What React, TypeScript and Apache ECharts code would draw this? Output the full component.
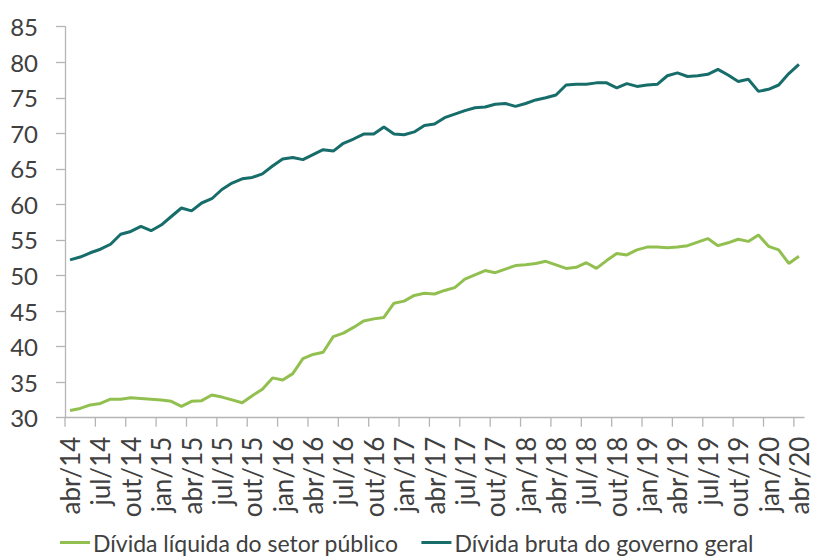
import React, { useEffect, useRef } from "react";
import * as echarts from "echarts";

// Months (Portuguese abbreviations) used to build the category labels abr/14 ... abr/20
const monthNames = ["jan", "fev", "mar", "abr", "mai", "jun", "jul", "ago", "set", "out", "nov", "dez"];
const startYear = 2014;
const startMonth = 3; // abr
const monthCount = 73;

const categories: string[] = [];
for (let i = 0; i < monthCount; i++) {
  const mm = (startMonth + i) % 12;
  const yy = startYear + Math.floor((startMonth + i) / 12);
  categories.push(`${monthNames[mm]}/${String(yy).slice(2)}`);
}

// Dívida líquida do setor público (% PIB)
const dividaLiquida = [
  31.0, 31.3, 31.8, 32.0, 32.6, 32.6, 32.8, 32.7, 32.6, 32.5, 32.3, 31.6,
  32.3, 32.4, 33.2, 32.9, 32.5, 32.1, 33.1, 34.0, 35.6, 35.3, 36.2, 38.3,
  38.9, 39.2, 41.4, 41.9, 42.7, 43.6, 43.9, 44.1, 46.1, 46.4, 47.2, 47.5,
  47.4, 47.9, 48.3, 49.5, 50.1, 50.7, 50.4, 50.9, 51.4, 51.5, 51.7, 52.0,
  51.5, 51.0, 51.15, 51.8, 51.0, 52.1, 53.1, 52.9, 53.6, 54.0, 54.0, 53.9,
  54.0, 54.2, 54.7, 55.2, 54.2, 54.6, 55.1, 54.8, 55.7, 54.1, 53.6, 51.7,
  52.7,
];

// Dívida bruta do governo geral (% PIB)
const dividaBruta = [
  52.2, 52.6, 53.2, 53.7, 54.4, 55.8, 56.2, 56.9, 56.3, 57.1, 58.3, 59.5,
  59.1, 60.2, 60.8, 62.1, 63.0, 63.6, 63.8, 64.3, 65.4, 66.4, 66.6, 66.3,
  67.0, 67.7, 67.5, 68.6, 69.2, 69.9, 69.9, 70.9, 69.9, 69.8, 70.2, 71.1,
  71.3, 72.2, 72.7, 73.2, 73.6, 73.7, 74.1, 74.2, 73.8, 74.2, 74.7, 75.0,
  75.4, 76.8, 76.9, 76.9, 77.1, 77.1, 76.4, 77.0, 76.6, 76.8, 76.9, 78.1,
  78.5, 78.0, 78.1, 78.3, 79.0, 78.2, 77.3, 77.6, 75.9, 76.2, 76.8, 78.4,
  79.7,
];

const seriesNames = ["Dívida líquida do setor público", "Dívida bruta do governo geral"];
const yMin = 30;
const yMax = 85;
const yStep = 5;
const labelEvery = 3;

const FONT = "Lato, 'Open Sans', sans-serif";
const TEXT = "#404040";
const AXIS = "#B5B5B5";

export default function App() {
  const ref = useRef<HTMLDivElement>(null);

  useEffect(() => {
    if (!ref.current) return;
    const chart = echarts.init(ref.current, null, { renderer: "svg" });

    const tickData = categories
      .map((_, i) => i)
      .filter((i) => i % labelEvery === 0)
      .map((i) => [i, yMin]);

    chart.setOption({
      animation: false,
      backgroundColor: "#ffffff",
      grid: { left: 65, right: 10, top: 26.7, bottom: 139.3, containLabel: false, outerBoundsMode: "none" },
      legend: {
        data: seriesNames,
        left: 55,
        top: 526,
        itemWidth: 30,
        itemHeight: 3,
        itemGap: 23,
        icon: "rect",
        textStyle: { fontFamily: FONT, fontSize: 23, color: TEXT, padding: [0, 0, 0, -2] },
      },
      xAxis: {
        type: "category",
        data: categories,
        boundaryGap: true,
        axisLine: { show: true, lineStyle: { color: AXIS, width: 1.3 } },
        axisTick: { show: false },
        axisLabel: {
          interval: labelEvery - 1,
          rotate: 90,
          margin: 19,
          fontFamily: FONT,
          fontSize: 26,
          color: TEXT,
        },
        splitLine: { show: false },
      },
      yAxis: {
        type: "value",
        min: yMin,
        max: yMax,
        interval: yStep,
        axisLine: { show: true, lineStyle: { color: AXIS, width: 1.3 } },
        axisTick: { show: true, inside: false, length: 9, lineStyle: { color: AXIS, width: 1.3 } },
        axisLabel: { margin: 27, fontFamily: FONT, fontSize: 24, color: TEXT },
        splitLine: { show: false },
      },
      series: [
        {
          name: seriesNames[0],
          type: "line",
          data: dividaLiquida,
          showSymbol: false,
          symbol: "none",
          lineStyle: { color: "#92C050", width: 3 },
          itemStyle: { color: "#92C050" },
        },
        {
          name: seriesNames[1],
          type: "line",
          data: dividaBruta,
          showSymbol: false,
          symbol: "none",
          lineStyle: { color: "#176D69", width: 3 },
          itemStyle: { color: "#176D69" },
        },
        {
          name: "ticks",
          type: "custom",
          silent: true,
          data: tickData,
          encode: { x: 0, y: 1 },
          renderItem: (params: any, api: any) => {
            const p = api.coord([api.value(0), api.value(1)]);
            const w = api.size([1, 0])[0];
            const x = p[0] - w / 2;
            return {
              type: "line",
              shape: { x1: x, y1: p[1], x2: x, y2: p[1] + 9 },
              style: { stroke: AXIS, lineWidth: 1.3 },
            };
          },
        },
      ],
    });

    return () => chart.dispose();
  }, []);

  return (
    <div
      ref={ref}
      style={{ position: "fixed", left: 0, top: 0, width: 814, height: 557, background: "#fff" }}
    />
  );
}
